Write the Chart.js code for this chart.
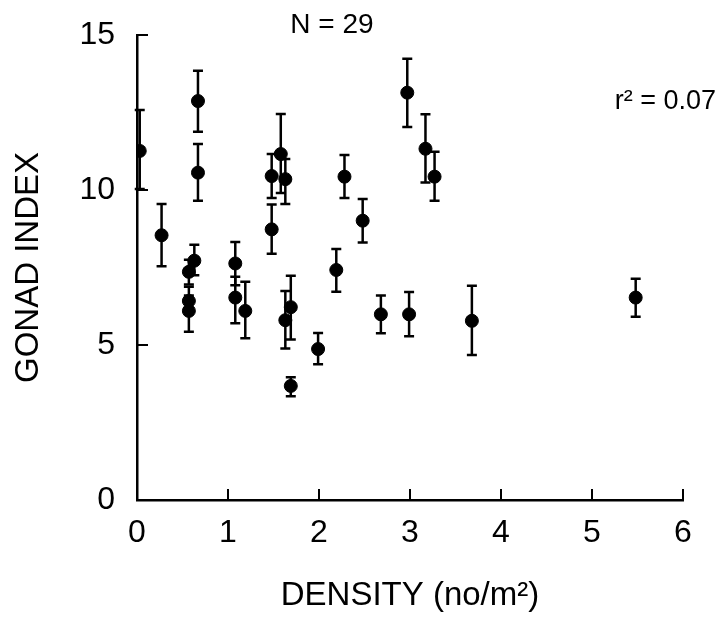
<!DOCTYPE html>
<html>
<head>
<meta charset="utf-8">
<script src="https://cdn.jsdelivr.net/npm/chart.js@4"></script>
<style>
  html, body { margin: 0; padding: 0; background: #fff; }
  #wrap { width: 720px; height: 618px; }
</style>
</head>
<body>
<div id="wrap"><canvas id="chart" width="720" height="618"></canvas></div>
<script>
// density (no/m2) and gonad index, with top and bottom of each error bar
const density = [0.03, 0.27, 0.57, 0.57, 0.57, 0.63, 0.67, 0.67, 1.08, 1.08, 1.19, 1.48, 1.48, 1.58, 1.63,
                 1.63, 1.69, 1.69, 1.99, 2.19, 2.28, 2.48, 2.68, 2.97, 2.99, 3.17, 3.27, 3.68, 5.48];
const gonadIndex = [11.26, 8.54, 7.36, 6.42, 6.10, 7.72, 12.87, 10.56, 7.63, 6.53, 6.10, 10.45, 8.73, 11.16, 10.35,
                    5.80, 6.22, 3.68, 4.87, 7.42, 10.43, 9.01, 5.99, 13.14, 5.99, 11.33, 10.43, 5.78, 6.53];
const errTop = [12.58, 9.55, 7.75, 6.88, 6.60, 8.23, 13.85, 11.48, 8.32, 7.20, 7.04, 11.16, 9.53, 12.45, 11.00,
                6.74, 7.23, 3.96, 5.39, 8.10, 11.13, 9.71, 6.60, 14.23, 6.71, 12.44, 11.23, 6.91, 7.14];
const errBottom = [10.03, 7.54, 6.95, 6.00, 5.43, 7.25, 11.88, 9.65, 6.93, 5.70, 5.22, 9.74, 7.94, 9.90, 9.55,
                   4.89, 5.18, 3.35, 4.38, 6.72, 9.74, 8.31, 5.38, 12.03, 5.28, 10.24, 9.65, 4.68, 5.91];

const xTicks = [0, 1, 2, 3, 4, 5, 6];
const yTicks = [0, 5, 10, 15];

const FONT = "'Liberation Sans', Arial, sans-serif";

const points = density.map((x, i) => ({ x: x, y: gonadIndex[i] }));

// vertical error bars with caps
const errorBars = {
  id: "errorBars",
  beforeDatasetsDraw(chart) {
    const ctx = chart.ctx;
    const xs = chart.scales.x, ys = chart.scales.y;
    ctx.save();
    ctx.strokeStyle = "#000";
    ctx.lineWidth = 2.5;
    density.forEach((d, i) => {
      const px = xs.getPixelForValue(d);
      const top = ys.getPixelForValue(errTop[i]);
      const bot = ys.getPixelForValue(errBottom[i]);
      ctx.beginPath();
      ctx.moveTo(px, top); ctx.lineTo(px, bot);
      ctx.moveTo(px - 5, top); ctx.lineTo(px + 5, top);
      ctx.moveTo(px - 5, bot); ctx.lineTo(px + 5, bot);
      ctx.stroke();
    });
    ctx.restore();
  }
};

// inward tick marks + annotations
const extras = {
  id: "extras",
  afterDraw(chart) {
    const ctx = chart.ctx;
    const xs = chart.scales.x, ys = chart.scales.y;
    const a = chart.chartArea;
    ctx.save();
    ctx.strokeStyle = "#000";
    ctx.lineWidth = 2;
    ctx.beginPath();
    xTicks.slice(1).forEach(v => {
      const px = xs.getPixelForValue(v);
      ctx.moveTo(px, a.bottom); ctx.lineTo(px, a.bottom - 11);
    });
    yTicks.slice(1).forEach(v => {
      const py = ys.getPixelForValue(v);
      ctx.moveTo(a.left, py); ctx.lineTo(a.left + 11, py);
    });
    ctx.stroke();

    ctx.fillStyle = "#000";
    ctx.font = "28px " + FONT;
    ctx.textAlign = "center";
    ctx.textBaseline = "middle";
    ctx.fillText("N = 29", 332, 25);
    ctx.font = "27px " + FONT;
    ctx.textAlign = "right";
    ctx.fillText("r\u00B2 = 0.07", 716, 102);
    ctx.restore();
  }
};

const config = {
  type: "scatter",
  data: {
    datasets: [{
      label: "Gonad index",
      data: points,
      backgroundColor: "#000",
      borderColor: "#000",
      pointRadius: 6.5,
      pointHoverRadius: 6.5,
      showLine: false
    }]
  },
  options: {
    responsive: false,
    animation: false,
    layout: { padding: { left: 0, right: 37, top: 35, bottom: 0 } },
    plugins: {
      legend: { display: false },
      tooltip: { enabled: false }
    },
    scales: {
      x: {
        type: "linear",
        min: 0, max: 6,
        afterFit(s) { s.height = 118; },
        afterBuildTicks(s) { s.ticks = xTicks.map(v => ({ value: v })); },
        grid: { display: false, drawTicks: false },
        border: { display: true, color: "#000", width: 2.5 },
        ticks: { color: "#000", padding: 14, font: { family: FONT, size: 32 } },
        title: {
          display: true,
          text: "DENSITY (no/m\u00B2)",
          color: "#000",
          font: { family: FONT, size: 33, lineHeight: 1 },
          padding: { top: 0, bottom: 6 }
        }
      },
      y: {
        type: "linear",
        min: 0, max: 15,
        afterFit(s) { s.width = 137; },
        afterBuildTicks(s) { s.ticks = yTicks.map(v => ({ value: v })); },
        // invisible outer ticks only push the labels away from the axis
        grid: { display: true, drawOnChartArea: false, drawTicks: true, tickLength: 20, tickColor: "rgba(0,0,0,0)" },
        border: { display: true, color: "#000", width: 2.5 },
        ticks: { color: "#000", padding: 2, font: { family: FONT, size: 32 } },
        title: {
          display: true,
          text: "GONAD INDEX",
          color: "#000",
          font: { family: FONT, size: 33, lineHeight: 1 },
          padding: { top: 12, bottom: 0 }
        }
      }
    }
  },
  plugins: [errorBars, extras]
};

const myChart = new Chart(document.getElementById("chart"), config);
</script>
</body>
</html>
